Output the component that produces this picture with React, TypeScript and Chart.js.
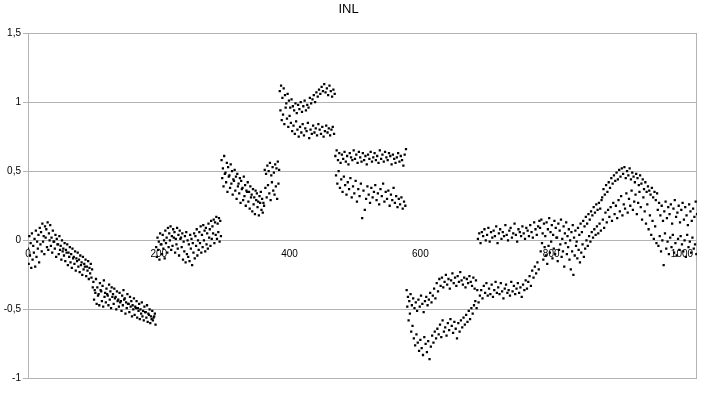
import React, { useEffect, useRef } from 'react';
import { Chart, registerables } from 'chart.js';

Chart.register(...registerables);

// INL values in hundredths, per code range (interleaved upper/lower sequences)
const seg0 = [
  -6, -17, 3, -11, -2, -20, 5, -14, -4, -9,
  1, -19, 7, -12, -1, -6, 4, -16, 9, -3,
  6, -8, 12, -1, 3, -10, 10, 2, 8, -5,
  13, -7, 5, 0, 11, -4, 2, -9, 7, -1,
  -1, -6, 4, -12, 1, -3, -3, -10, 3, -7,
  -4, -14, 0, -8, -6, -11, -2, -15, -7, -9,
  -3, -18, -9, -12, -5, -16, -10, -20, -6, -13,
  -12, -17, -8, -22, -13, -15, -9, -19, -14, -23,
  -11, -18, -16, -25, -12, -21, -17, -19, -14, -26,
  -19, -22, -15, -28, -20, -24, -17, -27, -21, -34,
];
const seg1 = [
  -30, -43, -36, -38, -28, -46, -34, -40, -39, -47,
  -31, -36, -37, -44, -33, -48, -29, -41, -38, -45,
  -35, -39, -40, -47, -32, -43, -37, -49, -34, -41,
  -39, -46, -35, -42, -41, -50, -37, -44, -43, -48,
  -38, -45, -44, -51, -40, -47, -36, -43, -42, -53,
  -45, -49, -39, -46, -46, -52, -41, -48, -44, -55,
  -47, -50, -42, -54, -48, -49, -44, -56, -49, -51,
  -46, -57, -50, -53, -45, -55, -51, -58, -48, -52,
  -52, -56, -47, -59, -53, -54, -50, -60, -55, -57,
  -51, -58, -56, -55, -53, -61,
];
const seg2 = [
  -5, -12, 2, -7, -1, -14, 5, -3, -3, -10,
  4, -6, 0, -13, 7, -2, 2, -9, 9, -5,
  5, 0, 10, -7, 3, -4, 8, 2, 6, -9,
  1, -3, 9, -6, 4, -11, 7, 1, 2, -5,
  5, -14, -1, -8, 3, -16, 6, -10, 0, -12,
  -3, -15, 4, -6, 1, -18, -2, -9, 5, -13,
  3, -4, 8, -11, 0, -7, 6, -2, 10, -9,
  4, -5, 11, 0, 7, -8, 9, -3, 5, -6,
  12, 2, 8, -4, 14, 1, 10, 5, 15, -2,
  13, 4, 17, 1, 12, 6, 16, -1, 14, 3,
];
const seg3 = [
  58, 45, 52, 39, 61, 48, 49, 42, 56, 35,
  53, 46, 47, 38, 55, 41, 50, 33, 44, 43,
  51, 36, 46, 30, 48, 39, 41, 34, 45, 27,
  43, 37, 38, 29, 46, 32, 40, 25, 36, 35,
  42, 28, 35, 23, 39, 31, 33, 21, 37, 26,
  31, 19, 36, 29, 34, 24, 28, 18, 32, 27,
  35, 22, 30, 20, 27, 25, 51, 38, 48, 31,
  54, 40, 50, 34, 56, 29, 47, 42, 53, 36,
  49, 33, 55, 39, 52, 30, 57, 41, 51,
];
const seg4 = [
  108, 94, 112, 87, 103, 91, 110, 84, 105, 96,
  99, 88, 106, 82, 101, 90, 96, 85, 102, 79,
  97, 83, 94, 77, 99, 86, 92, 80, 98, 75,
  95, 82, 100, 78, 93, 84, 97, 76, 101, 81,
  94, 79, 98, 85, 96, 74, 103, 80, 99, 77,
  102, 83, 105, 78, 100, 81, 107, 76, 104, 84,
  109, 80, 106, 77, 111, 82, 108, 75, 113, 79,
  107, 83, 110, 78, 105, 81, 112, 76, 108, 80,
  104, 82, 109, 77, 106,
];
const seg5 = [
  61, 47, 65, 41, 58, 50, 63, 38, 56, 44,
  62, 35, 59, 46, 64, 40, 57, 33, 61, 42,
  55, 37, 63, 45, 60, 31, 58, 39, 65, 34,
  59, 43, 62, 28, 56, 37, 64, 32, 60, 41,
  57, 16, 63, 36, 58, 22, 61, 30, 55, 39,
  62, 33, 59, 27, 64, 38, 57, 31, 60, 35,
  63, 40, 58, 29, 61, 34, 56, 26, 65, 37,
  59, 32, 62, 41, 57, 28, 64, 35, 60, 30,
  58, 36, 63, 25, 61, 33, 55, 29, 62, 38,
  59, 27, 56, 32, 60, 24, 63, 30, 57, 26,
  61, 31, 58, 23, 54, 28, 62, 25, 66,
];
const seg6 = [
  -36, -48, -41, -58, -44, -53, -39, -66, -47, -62,
  -42, -71, -49, -76, -45, -68, -51, -74, -43, -80,
  -48, -72, -40, -78, -46, -83, -52, -70, -44, -75,
  -41, -81, -47, -73, -43, -86, -38, -77, -45, -69,
  -40, -74, -35, -66, -42, -71, -31, -64, -37, -68,
  -28, -61, -33, -70, -27, -58, -34, -66, -30, -63,
  -25, -69, -32, -60, -28, -65, -35, -57, -29, -62,
  -24, -67, -31, -59, -27, -64, -33, -71, -26, -60,
  -30, -66, -23, -58, -29, -63, -32, -56, -27, -61,
  -34, -54, -28, -59, -31, -51, -26, -57, -30, -49,
  -33, -53, -27, -47, -35, -44, -29, -49, -36,
];
const seg7 = [
  1, -45, 5, -40, -2, -36, 6, -42, 3, -33,
  8, -38, 0, -31, 4, -40, 9, -35, -1, -39,
  6, -32, 2, -41, 7, -36, 3, -30, 10, -38,
  -2, -34, 5, -39, 8, -31, 1, -37, 6, -42,
  3, -35, 11, -32, 4, -38, 0, -36, 7, -40,
  9, -30, 2, -37, 5, -33, 12, -39, 4, -35,
  -1, -31, 8, -38, 6, -34, 3, -41, 10, -32,
  5, -36, 1, -29, 9, -35, 7, -30, 3, -26,
  11, -33, 6, -22, 2, -27, 13, -19, 8, -24,
  4, -16, 10, -21, 14,
];
const seg8 = [
  9, -8, 15, -2, 5, -14, 12, -5, 3, -11,
  13, -17, 8, -4, 16, -9, 6, -1, 11, -13,
  4, -6, 14, -10, 9, 2, 2, -15, 12, -7,
  7, -3, 15, -12, 1, -8, 10, -19, 5, -2,
  13, -10, 3, -5, 8, -14, 0, -21, 6, -8,
  11, -25, 2, -11, 7, -4, -1, -13, 9, -7,
  4, -16, 12, -9, 6, -3, 14, -12, 10, -6,
  17, 0, 12, -4, 19, 3, 15, -1, 21, 6,
  18, 2, 24, 8, 20, 4, 26, 10, 22, 5,
  27, 12, 23, 7, 29,
];
const seg9 = [
  31, 15, 37, 9, 33, 20, 40, 13, 35, 22,
  42, 17, 38, 24, 45, 14, 41, 27, 47, 19,
  43, 25, 49, 16, 44, 29, 51, 21, 46, 32,
  52, 18, 48, 26, 53, 23, 45, 34, 50, 20,
  47, 30, 52, 25, 44, 36, 49, 22, 46, 28,
  42, 33, 48, 19, 45, 27, 40, 35, 47, 24,
  41, 15, 44, 31, 37, 21, 42, 12, 35, 26,
  39, 8, 36, 18, 33, 4, 38, 14, 31, 1,
  35, 10, 29, -2, 34,
];
const seg10 = [
  22, -4, 27, 3, 18, -8, 25, 0, 14, -18,
  21, 5, 28, -6, 16, -1, 24, -10, 19, 2,
  26, -5, 12, 4, 23, -9, 29, -2, 17, -11,
  20, 1, 25, -7, 13, 3, 22, -3, 27, -8,
  15, 0, 24, -12, 18, 4, 11, -5, 26, -1,
  21, -9, 14, 2, 23, -6, 17, -3, 28, -10,
  19, 1, 25, -7, 16, -2, 22, -11, 20,
];

const inlHundredths = [
  ...seg0, ...seg1, ...seg2, ...seg3, ...seg4, ...seg5,
  ...seg6, ...seg7, ...seg8, ...seg9, ...seg10,
];

const xTicks = [0, 200, 400, 600, 800, 1000];
const yTicks = [-1, -0.5, 0, 0.5, 1, 1.5];
const chartTitle = 'INL';

const GRID = '#b3b3b3';
const FONT = '"Liberation Sans", "DejaVu Sans", Arial, sans-serif';

const rightBorder = {
  id: 'rightBorder',
  beforeDatasetsDraw(chart: any) {
    const { ctx, chartArea: a } = chart;
    ctx.save();
    ctx.strokeStyle = GRID;
    ctx.lineWidth = 1;
    ctx.beginPath();
    const x = Math.round(a.right) - 0.5;
    ctx.moveTo(x, a.top);
    ctx.lineTo(x, a.bottom);
    ctx.stroke();
    ctx.restore();
  },
};

export default function App() {
  const ref = useRef<HTMLCanvasElement>(null);
  useEffect(() => {
    const points = inlHundredths.map((v, i) => ({ x: i, y: v / 100 }));
    const chart = new Chart(ref.current!, {
      type: 'scatter',
      data: {
        datasets: [
          {
            label: chartTitle,
            data: points,
            pointStyle: 'rect',
            pointRadius: 1.6,
            pointBorderWidth: 0,
            backgroundColor: '#000',
            borderColor: '#000',
          },
        ],
      },
      options: {
        animation: false,
        responsive: true,
        maintainAspectRatio: false,
        devicePixelRatio: 1,
        layout: { padding: { top: 0, right: 6, bottom: 16.5, left: 0 } },
        plugins: {
          legend: { display: false },
          tooltip: { enabled: false },
          title: {
            display: true,
            text: chartTitle,
            color: '#000',
            font: { family: FONT, size: 13, weight: 'normal' },
            padding: { top: 2, bottom: 15.4 },
          },
        },
        scales: {
          x: {
            type: 'linear',
            position: { y: 0 } as any,
            min: 0,
            max: 1023,
            afterFit: (s: any) => { s.height = 0; },
            afterBuildTicks: (s: any) => { s.ticks = xTicks.map((v) => ({ value: v })); },
            grid: { display: false, drawTicks: false },
            border: { display: false },
            ticks: {
              color: '#000',
              padding: 8,
              maxRotation: 0,
              autoSkip: false,
              font: { family: FONT, size: 10 },
              callback: (v: any) => String(v),
            },
          },
          y: {
            type: 'linear',
            min: -1,
            max: 1.5,
            afterFit: (s: any) => { s.width = 28; },
            afterBuildTicks: (s: any) => { s.ticks = yTicks.map((v) => ({ value: v })); },
            grid: { color: GRID, tickLength: 5, lineWidth: 1 },
            border: { display: true, color: GRID },
            ticks: {
              color: '#000',
              padding: 2,
              font: { family: FONT, size: 10 },
              callback: (v: any) => String(v).replace('.', ','),
            },
          },
        },
      },
      plugins: [rightBorder],
    });
    return () => chart.destroy();
  }, []);
  return (
    <div style={{ position: 'absolute', left: 0, top: 0, width: 703, height: 395, background: '#fff' }}>
      <canvas ref={ref} />
    </div>
  );
}
